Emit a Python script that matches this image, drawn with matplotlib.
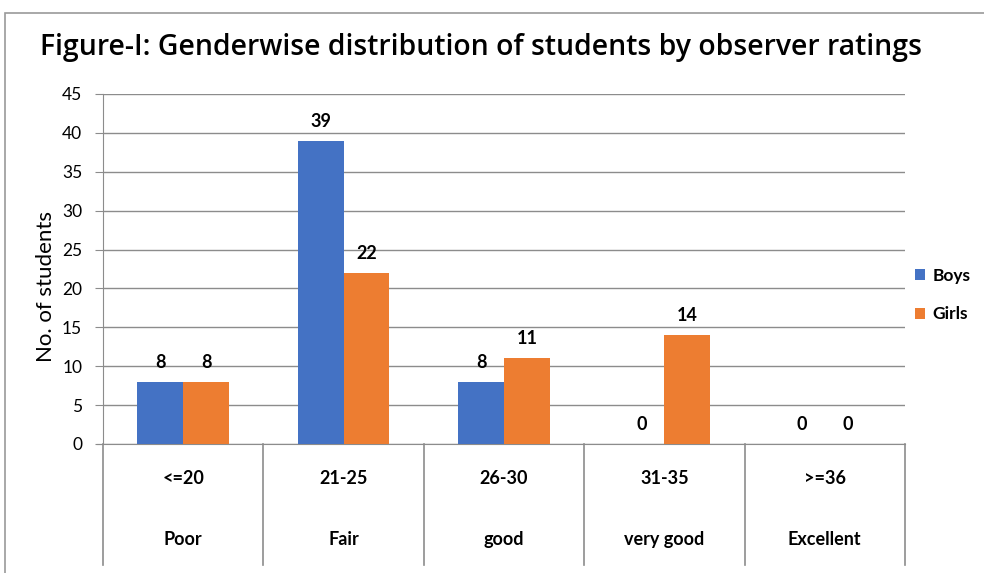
import matplotlib
matplotlib.use('Agg')
import matplotlib.pyplot as plt
import numpy as np
from matplotlib.patches import Rectangle

# chart data
ranges = ['<=20', '21-25', '26-30', '31-35', '>=36']
ratings = ['Poor', 'Fair', 'good', 'very good', 'Excellent']
boys = [8, 39, 8, 0, 0]
girls = [8, 22, 11, 14, 0]

blue = '#4472C4'
orange = '#ED7D31'
grid_col = '#8c8c8c'

plt.rcParams['font.family'] = ['Lato', 'DejaVu Sans']

W, H = 984, 573
fig = plt.figure(figsize=(W / 100, H / 100), dpi=100)

# outer chart border
fig.patches.append(Rectangle((5 / W, -0.1), 1.2, (H - 13) / H + 0.1,
                             transform=fig.transFigure, fill=False,
                             edgecolor='#9a9a9a', lw=1.2))

ax = fig.add_axes([103 / W, 1 - 444 / H, (905 - 103) / W, 350 / H])

x = np.arange(len(ranges))
bw = 0.285
b1 = ax.bar(x - bw / 2, boys, bw, color=blue, label='Boys', zorder=3)
b2 = ax.bar(x + bw / 2, girls, bw, color=orange, label='Girls', zorder=3)

# value labels
for bars, vals in ((b1, boys), (b2, girls)):
    for rect, v in zip(bars, vals):
        ax.annotate(str(v), (rect.get_x() + rect.get_width() / 2, v),
                    xytext=(0, 8), textcoords='offset points',
                    ha='center', va='bottom', fontsize=13, fontweight='bold')

ax.set_xlim(-0.5, len(ranges) - 0.5)
ax.set_ylim(0, 45)
ax.set_yticks(np.arange(0, 46, 5))
ax.yaxis.grid(True, color=grid_col, lw=1, zorder=0)
ax.set_axisbelow(True)
ax.tick_params(axis='y', direction='out', length=6, color=grid_col,
               labelsize=12.5, pad=9)
ax.set_xticks([])
for s in ['top', 'right']:
    ax.spines[s].set_visible(False)
ax.spines['left'].set_color(grid_col)
ax.spines['bottom'].set_color(grid_col)
ax.spines['bottom'].set_bounds(-0.5 - 6 / 160, len(ranges) - 0.5)

ax.set_ylabel('No. of students', fontsize=16)
ax.yaxis.set_label_coords(-0.058, 0.45)

# two-level category axis
tr = ax.get_xaxis_transform()
for i in range(len(ranges) + 1):
    ax.plot([i - 0.5, i - 0.5], [0, -0.346], color=grid_col, lw=1.2,
            transform=tr, clip_on=False)
for i, (r, c) in enumerate(zip(ranges, ratings)):
    ax.text(i, -0.1, r, transform=tr, ha='center', va='center',
            fontsize=13, fontweight='bold')
    ax.text(i, -0.274, c, transform=tr, ha='center', va='center',
            fontsize=13, fontweight='bold')

fig.text(40 / W, 1 - 48 / H, 'Figure-I: Genderwise distribution of students by observer ratings',
         ha='left', va='center', fontsize=20.4, fontweight='semibold',
         family=['Open Sans', 'DejaVu Sans'])

fig.legend(handles=[b1, b2], loc='center left', bbox_to_anchor=(915 / W, 1 - 295 / H),
           frameon=False, handlelength=0.6, handleheight=0.6, borderpad=0,
           borderaxespad=0, handletextpad=0.4, labelspacing=1.3,
           prop={'weight': 'bold', 'size': 12.5})

fig.savefig('out.png', dpi=100)
